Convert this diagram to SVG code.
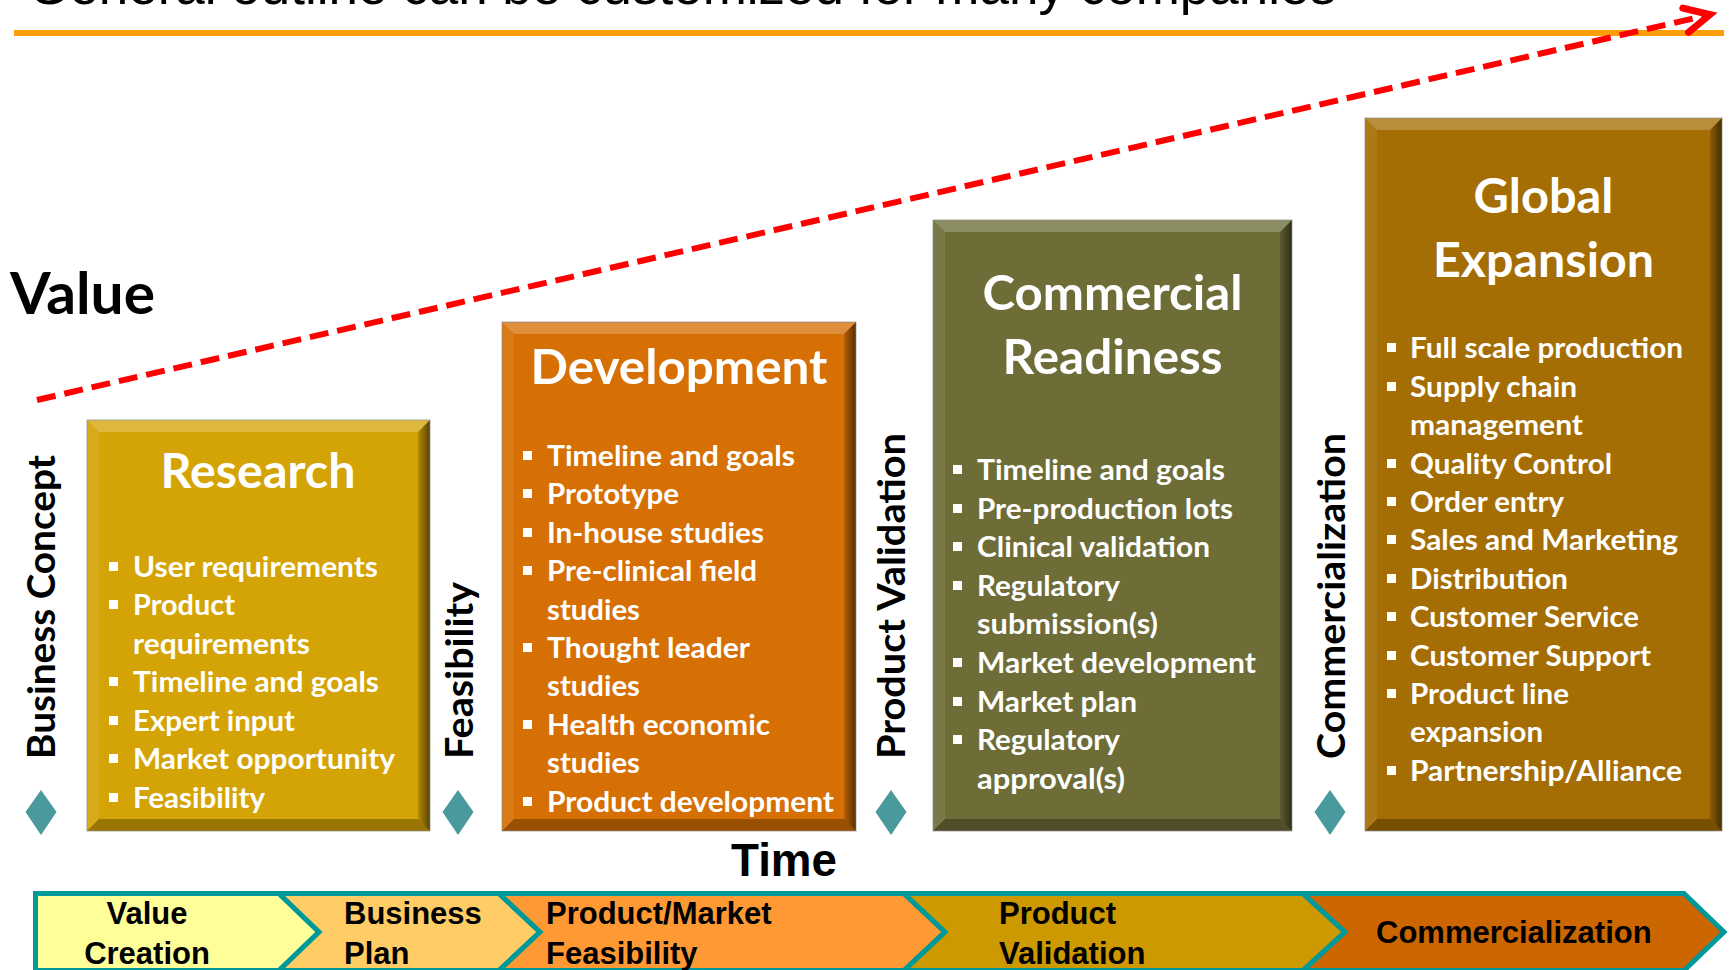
<svg xmlns="http://www.w3.org/2000/svg" width="1729" height="970" viewBox="0 0 1729 970">
<style>
.bt{font-family:Lato,"Open Sans","DejaVu Sans",sans-serif;font-weight:700;font-size:29px;fill:#fff}
.tt{font-family:Lato,"Open Sans","DejaVu Sans",sans-serif;font-weight:700;font-size:47px;fill:#fff;text-anchor:middle}
.vt{font-family:Lato,"Open Sans","DejaVu Sans",sans-serif;font-weight:700;font-size:38px;fill:#000}
.bl{font-family:"Liberation Sans",Arial,sans-serif;font-weight:700;font-size:31px;fill:#000}
.sq{fill:#fff}
.dia{fill:#4A999D}
.hl{fill:#fff;opacity:.22}
.hl2{fill:#fff;opacity:.08}
.dk{fill:url(#shadeR)}
.dkb{fill:#000;opacity:.28}
.frame{fill:none;stroke:#8c8c8c;stroke-width:1;opacity:.7}
.chev{stroke:#009999;stroke-width:5;stroke-linejoin:miter}
</style>
<defs>
<linearGradient id="shadeR" x1="0" y1="0" x2="1" y2="0">
<stop offset="0" stop-color="#000" stop-opacity=".15"/>
<stop offset="1" stop-color="#000" stop-opacity=".6"/>
</linearGradient>
<marker id="arrowHead" markerUnits="userSpaceOnUse" viewBox="-34 -18 46 36" markerWidth="46" markerHeight="36" refX="0" refY="0" orient="auto" overflow="visible">
<path d="M-25,-12.5 L0,0 L-25,12.5" fill="none" stroke="#FF0000" stroke-width="7" stroke-linecap="round" stroke-linejoin="miter"/>
</marker>
</defs>
<rect width="1729" height="970" fill="#fff"/>

<g id="header">
<text x="28" y="4" font-family="Liberation Sans, Arial, sans-serif" font-size="53" fill="#000" textLength="1308" lengthAdjust="spacingAndGlyphs">General outline can be customized for many companies</text>
<rect x="14" y="30" width="1710" height="6" fill="#FF9D0A"/>
</g>

<g id="axis-labels">
<text x="10" y="314" font-family="Lato, 'Open Sans', sans-serif" font-weight="700" font-size="57" fill="#000" textLength="145" lengthAdjust="spacingAndGlyphs">Value</text>
<text x="731" y="876" font-family="Liberation Sans, Arial, sans-serif" font-weight="700" font-size="46" fill="#000" textLength="106" lengthAdjust="spacingAndGlyphs">Time</text>
</g>

<g id="milestone-business-concept">
<text class="vt" transform="translate(55,759) rotate(-90)" textLength="304" lengthAdjust="spacingAndGlyphs">Business Concept</text>
<polygon class="dia" points="41,790 56.5,812 41,835 25.5,812"/>
</g>
<g id="milestone-feasibility">
<text class="vt" transform="translate(473,759) rotate(-90)" textLength="177" lengthAdjust="spacingAndGlyphs">Feasibility</text>
<polygon class="dia" points="458,790 473.5,812 458,835 442.5,812"/>
</g>
<g id="milestone-product-validation">
<text class="vt" transform="translate(905,759) rotate(-90)" textLength="326" lengthAdjust="spacingAndGlyphs">Product Validation</text>
<polygon class="dia" points="891,790 906.5,812 891,835 875.5,812"/>
</g>
<g id="milestone-commercialization">
<text class="vt" transform="translate(1345,759) rotate(-90)" textLength="326" lengthAdjust="spacingAndGlyphs">Commercialization</text>
<polygon class="dia" points="1330,790 1345.5,812 1330,835 1314.5,812"/>
</g>

<g id="box-research">
<rect x="87" y="420" width="343" height="411" fill="#D4A406"/>
<polygon class="hl" points="87,420 430,420 418,432 99,432"/>
<polygon class="hl2" points="87,420 99,432 99,819 87,831"/>
<polygon class="dk" points="430,420 430,831 418,819 418,432"/>
<polygon class="dkb" points="87,831 430,831 418,819 99,819"/>
<rect class="frame" x="87" y="420" width="343" height="411"/>
<text class="tt" x="258" y="488" textLength="195" lengthAdjust="spacingAndGlyphs">Research</text>
<rect class="sq" x="109" y="562" width="9" height="9"/><text class="bt" x="133" y="577" textLength="245" lengthAdjust="spacingAndGlyphs">User requirements</text>
<rect class="sq" x="109" y="600" width="9" height="9"/><text class="bt" x="133" y="615" textLength="102" lengthAdjust="spacingAndGlyphs">Product</text>
<text class="bt" x="133" y="654" textLength="177" lengthAdjust="spacingAndGlyphs">requirements</text>
<rect class="sq" x="109" y="677" width="9" height="9"/><text class="bt" x="133" y="692" textLength="246" lengthAdjust="spacingAndGlyphs">Timeline and goals</text>
<rect class="sq" x="109" y="716" width="9" height="9"/><text class="bt" x="133" y="731" textLength="162" lengthAdjust="spacingAndGlyphs">Expert input</text>
<rect class="sq" x="109" y="754" width="9" height="9"/><text class="bt" x="133" y="769" textLength="262" lengthAdjust="spacingAndGlyphs">Market opportunity</text>
<rect class="sq" x="109" y="793" width="9" height="9"/><text class="bt" x="133" y="808" textLength="132" lengthAdjust="spacingAndGlyphs">Feasibility</text>
</g>

<g id="box-development">
<rect x="502" y="322" width="354" height="509" fill="#D66F04"/>
<polygon class="hl" points="502,322 856,322 844,334 514,334"/>
<polygon class="hl2" points="502,322 514,334 514,819 502,831"/>
<polygon class="dk" points="856,322 856,831 844,819 844,334"/>
<polygon class="dkb" points="502,831 856,831 844,819 514,819"/>
<rect class="frame" x="502" y="322" width="354" height="509"/>
<text class="tt" x="679" y="384" textLength="297" lengthAdjust="spacingAndGlyphs">Development</text>
<rect class="sq" x="523" y="451" width="9" height="9"/><text class="bt" x="547" y="466" textLength="248" lengthAdjust="spacingAndGlyphs">Timeline and goals</text>
<rect class="sq" x="523" y="489" width="9" height="9"/><text class="bt" x="547" y="504" textLength="132" lengthAdjust="spacingAndGlyphs">Prototype</text>
<rect class="sq" x="523" y="528" width="9" height="9"/><text class="bt" x="547" y="543" textLength="217" lengthAdjust="spacingAndGlyphs">In-house studies</text>
<rect class="sq" x="523" y="566" width="9" height="9"/><text class="bt" x="547" y="581" textLength="210" lengthAdjust="spacingAndGlyphs">Pre-clinical field</text>
<text class="bt" x="547" y="620" textLength="93" lengthAdjust="spacingAndGlyphs">studies</text>
<rect class="sq" x="523" y="643" width="9" height="9"/><text class="bt" x="547" y="658" textLength="203" lengthAdjust="spacingAndGlyphs">Thought leader</text>
<text class="bt" x="547" y="696" textLength="93" lengthAdjust="spacingAndGlyphs">studies</text>
<rect class="sq" x="523" y="720" width="9" height="9"/><text class="bt" x="547" y="735" textLength="223" lengthAdjust="spacingAndGlyphs">Health economic</text>
<text class="bt" x="547" y="773" textLength="93" lengthAdjust="spacingAndGlyphs">studies</text>
<rect class="sq" x="523" y="797" width="9" height="9"/><text class="bt" x="547" y="812" textLength="287" lengthAdjust="spacingAndGlyphs">Product development</text>
</g>

<g id="box-commercial-readiness">
<rect x="933" y="220" width="359" height="611" fill="#6E6D38"/>
<polygon class="hl" points="933,220 1292,220 1280,232 945,232"/>
<polygon class="hl2" points="933,220 945,232 945,819 933,831"/>
<polygon class="dk" points="1292,220 1292,831 1280,819 1280,232"/>
<polygon class="dkb" points="933,831 1292,831 1280,819 945,819"/>
<rect class="frame" x="933" y="220" width="359" height="611"/>
<text class="tt" x="1112.5" y="310" textLength="260" lengthAdjust="spacingAndGlyphs">Commercial</text>
<text class="tt" x="1112.5" y="374" textLength="220" lengthAdjust="spacingAndGlyphs">Readiness</text>
<rect class="sq" x="953" y="465" width="9" height="9"/><text class="bt" x="977" y="480" textLength="248" lengthAdjust="spacingAndGlyphs">Timeline and goals</text>
<rect class="sq" x="953" y="504" width="9" height="9"/><text class="bt" x="977" y="519" textLength="256" lengthAdjust="spacingAndGlyphs">Pre-production lots</text>
<rect class="sq" x="953" y="542" width="9" height="9"/><text class="bt" x="977" y="557" textLength="233" lengthAdjust="spacingAndGlyphs">Clinical validation</text>
<rect class="sq" x="953" y="581" width="9" height="9"/><text class="bt" x="977" y="596" textLength="143" lengthAdjust="spacingAndGlyphs">Regulatory</text>
<text class="bt" x="977" y="634" textLength="181" lengthAdjust="spacingAndGlyphs">submission(s)</text>
<rect class="sq" x="953" y="658" width="9" height="9"/><text class="bt" x="977" y="673" textLength="279" lengthAdjust="spacingAndGlyphs">Market development</text>
<rect class="sq" x="953" y="697" width="9" height="9"/><text class="bt" x="977" y="712" textLength="160" lengthAdjust="spacingAndGlyphs">Market plan</text>
<rect class="sq" x="953" y="735" width="9" height="9"/><text class="bt" x="977" y="750" textLength="143" lengthAdjust="spacingAndGlyphs">Regulatory</text>
<text class="bt" x="977" y="789" textLength="148" lengthAdjust="spacingAndGlyphs">approval(s)</text>
</g>

<g id="box-global-expansion">
<rect x="1365" y="118" width="357" height="713" fill="#A46E05"/>
<polygon class="hl" points="1365,118 1722,118 1710,130 1377,130"/>
<polygon class="hl2" points="1365,118 1377,130 1377,819 1365,831"/>
<polygon class="dk" points="1722,118 1722,831 1710,819 1710,130"/>
<polygon class="dkb" points="1365,831 1722,831 1710,819 1377,819"/>
<rect class="frame" x="1365" y="118" width="357" height="713"/>
<text class="tt" x="1543.5" y="213" textLength="140" lengthAdjust="spacingAndGlyphs">Global</text>
<text class="tt" x="1543.5" y="277" textLength="221" lengthAdjust="spacingAndGlyphs">Expansion</text>
<rect class="sq" x="1387" y="343" width="9" height="9"/><text class="bt" x="1410" y="358" textLength="273" lengthAdjust="spacingAndGlyphs">Full scale production</text>
<rect class="sq" x="1387" y="382" width="9" height="9"/><text class="bt" x="1410" y="397" textLength="167" lengthAdjust="spacingAndGlyphs">Supply chain</text>
<text class="bt" x="1410" y="435" textLength="173" lengthAdjust="spacingAndGlyphs">management</text>
<rect class="sq" x="1387" y="459" width="9" height="9"/><text class="bt" x="1410" y="474" textLength="202" lengthAdjust="spacingAndGlyphs">Quality Control</text>
<rect class="sq" x="1387" y="497" width="9" height="9"/><text class="bt" x="1410" y="512" textLength="154" lengthAdjust="spacingAndGlyphs">Order entry</text>
<rect class="sq" x="1387" y="535" width="9" height="9"/><text class="bt" x="1410" y="550" textLength="268" lengthAdjust="spacingAndGlyphs">Sales and Marketing</text>
<rect class="sq" x="1387" y="574" width="9" height="9"/><text class="bt" x="1410" y="589" textLength="158" lengthAdjust="spacingAndGlyphs">Distribution</text>
<rect class="sq" x="1387" y="612" width="9" height="9"/><text class="bt" x="1410" y="627" textLength="229" lengthAdjust="spacingAndGlyphs">Customer Service</text>
<rect class="sq" x="1387" y="651" width="9" height="9"/><text class="bt" x="1410" y="666" textLength="241" lengthAdjust="spacingAndGlyphs">Customer Support</text>
<rect class="sq" x="1387" y="689" width="9" height="9"/><text class="bt" x="1410" y="704" textLength="159" lengthAdjust="spacingAndGlyphs">Product line</text>
<text class="bt" x="1410" y="742" textLength="133" lengthAdjust="spacingAndGlyphs">expansion</text>
<rect class="sq" x="1387" y="766" width="9" height="9"/><text class="bt" x="1410" y="781" textLength="272" lengthAdjust="spacingAndGlyphs">Partnership/Alliance</text>
</g>

<g id="connectors">
<line x1="37" y1="400" x2="1710" y2="14.6" stroke="#FF0000" stroke-width="6" stroke-dasharray="19 9" marker-end="url(#arrowHead)"/>
</g>

<g id="phase-value-creation">
<path class="chev" fill="#FFFF99" d="M35.5,893.5 L279,893.5 L319,932 L279,970.5 L35.5,970.5 Z"/>
<text class="bl" x="147" y="924" text-anchor="middle">Value</text>
<text class="bl" x="147" y="964" text-anchor="middle">Creation</text>
</g>
<g id="phase-business-plan">
<path class="chev" fill="#FFCC66" d="M279,893.5 L499,893.5 L540,932 L499,970.5 L279,970.5 L319,932 Z"/>
<text class="bl" x="344" y="924">Business</text>
<text class="bl" x="344" y="964">Plan</text>
</g>
<g id="phase-product-market-feasibility">
<path class="chev" fill="#FF9933" d="M499,893.5 L904,893.5 L945,932 L904,970.5 L499,970.5 L540,932 Z"/>
<text class="bl" x="546" y="924">Product/Market</text>
<text class="bl" x="546" y="964">Feasibility</text>
</g>
<g id="phase-product-validation">
<path class="chev" fill="#CC9900" d="M904,893.5 L1303,893.5 L1345,932 L1303,970.5 L904,970.5 L945,932 Z"/>
<text class="bl" x="999" y="924">Product</text>
<text class="bl" x="999" y="964">Validation</text>
</g>
<g id="phase-commercialization">
<path class="chev" fill="#CC6600" d="M1303,893.5 L1684,893.5 L1724,932 L1684,970.5 L1303,970.5 L1345,932 Z"/>
<text class="bl" x="1376" y="943">Commercialization</text>
</g>
</svg>
